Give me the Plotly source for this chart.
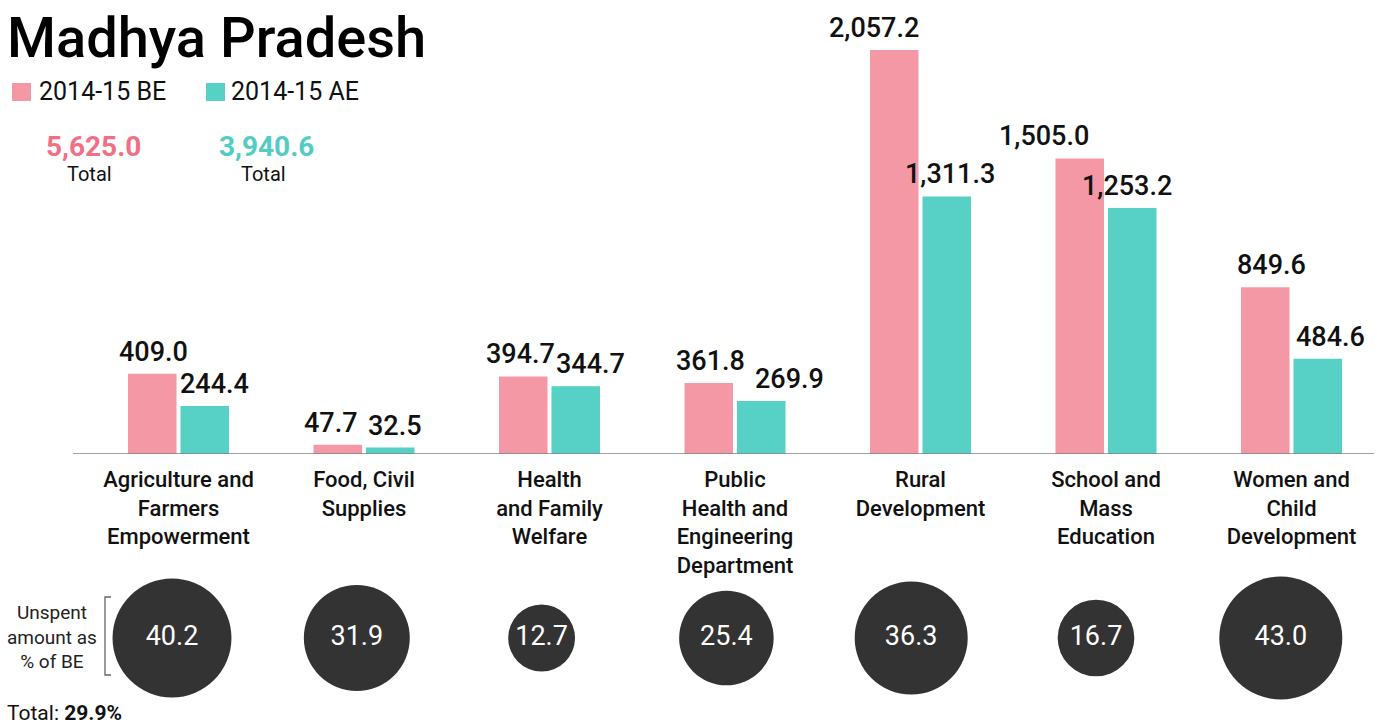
import plotly.graph_objects as go

W, H = 1383, 726

categories = [
    "Agriculture and<br>Farmers<br>Empowerment",
    "Food, Civil<br>Supplies",
    "Health<br>and Family<br>Welfare",
    "Public<br>Health and<br>Engineering<br>Department",
    "Rural<br>Development",
    "School and<br>Mass<br>Education",
    "Women and<br>Child<br>Development",
]
be_2014_15 = [409.0, 47.7, 394.7, 361.8, 2057.2, 1505.0, 849.6]
ae_2014_15 = [244.4, 32.5, 344.7, 269.9, 1311.3, 1253.2, 484.6]
unspent_pct = [40.2, 31.9, 12.7, 25.4, 36.3, 16.7, 43.0]
total_unspent = 29.9

# hand nudges for the value labels (px), so neighbours don't collide
be_nudge = [1, -7, -3, 2, -20, -36, 6]
ae_nudge = [10, 5, 15, 28, 3, -5, 13]

PINK = "#f498a5"
TEAL = "#57d0c6"
PINK_TXT = "#f07085"
TEAL_TXT = "#52cdc3"
DARK = "#333333"
FONT = "Roboto"

# plot geometry (px)
CAT_STEP = 185.5
FIRST_CAT_X = 178.5
CIRCLE_STEP = 184.8
FIRST_CIRCLE_X = 172
BASE_Y = 454
BAR_GAP = 0.434
GROUP_GAP = 0.076
slot = CAT_STEP * (1 - BAR_GAP) / 2
y_top = BASE_Y / (404 / 2057.2)


def px_x(x):
    return x / W


def px_y(y):
    return 1 - y / H


fig = go.Figure()
fig.add_trace(go.Bar(x=categories, y=be_2014_15, name="2014-15 BE",
                     marker=dict(color=PINK, line_width=0)))
fig.add_trace(go.Bar(x=categories, y=ae_2014_15, name="2014-15 AE",
                     marker=dict(color=TEAL, line_width=0)))

max_d = 123
fig.add_trace(go.Scatter(
    x=categories, y=[0] * len(categories), xaxis="x2", yaxis="y2",
    mode="markers+text",
    text=[f"{v:.1f}" for v in unspent_pct], textposition="middle center",
    textfont=dict(family=FONT, size=27, color="white"),
    marker=dict(size=unspent_pct, sizemode="area", color=DARK, opacity=1,
                sizeref=2 * max(unspent_pct) / max_d ** 2, line_width=0),
    hoverinfo="skip"))

annotations = []
for i, cat in enumerate(categories):
    for vals, nudge, side in ((be_2014_15, be_nudge, -1), (ae_2014_15, ae_nudge, 1)):
        annotations.append(dict(
            x=cat, y=vals[i], xref="x", yref="y", text=f"{vals[i]:,.1f}",
            showarrow=False, xanchor="center", yanchor="bottom",
            xshift=side * slot / 2 + nudge[i], yshift=4,
            font=dict(family=FONT, size=27, color="#111111", weight=500)))

total_be = sum(be_2014_15)
total_ae = sum(ae_2014_15)

annotations += [
    dict(x=px_x(5), y=px_y(38), xref="paper", yref="paper", text="Madhya Pradesh",
         showarrow=False, xanchor="left", yanchor="middle",
         font=dict(family=FONT, size=56, color="#000000", weight=500)),
    dict(x=px_x(37), y=px_y(92), xref="paper", yref="paper", text="2014-15 BE",
         showarrow=False, xanchor="left", yanchor="middle",
         font=dict(family=FONT, size=25, color="#111111")),
    dict(x=px_x(229), y=px_y(92), xref="paper", yref="paper", text="2014-15 AE",
         showarrow=False, xanchor="left", yanchor="middle",
         font=dict(family=FONT, size=25, color="#111111")),
    dict(x=px_x(93), y=px_y(146), xref="paper", yref="paper", text=f"{total_be:,.1f}",
         showarrow=False, xanchor="center", yanchor="middle",
         font=dict(family=FONT, size=28, color=PINK_TXT, weight="bold")),
    dict(x=px_x(89), y=px_y(174), xref="paper", yref="paper", text="Total",
         showarrow=False, xanchor="center", yanchor="middle",
         font=dict(family=FONT, size=20, color="#111111")),
    dict(x=px_x(266), y=px_y(146), xref="paper", yref="paper", text=f"{total_ae:,.1f}",
         showarrow=False, xanchor="center", yanchor="middle",
         font=dict(family=FONT, size=28, color=TEAL_TXT, weight="bold")),
    dict(x=px_x(263), y=px_y(174), xref="paper", yref="paper", text="Total",
         showarrow=False, xanchor="center", yanchor="middle",
         font=dict(family=FONT, size=20, color="#111111")),
    dict(x=px_x(52), y=px_y(637), xref="paper", yref="paper",
         text="Unspent<br>amount as<br>% of BE", align="center",
         showarrow=False, xanchor="center", yanchor="middle",
         font=dict(family=FONT, size=19, color="#222222")),
    dict(x=px_x(5), y=px_y(713), xref="paper", yref="paper",
         text=f"Total: <b>{total_unspent:.1f}%</b>",
         showarrow=False, xanchor="left", yanchor="middle",
         font=dict(family=FONT, size=21, color="#111111")),
]

shapes = [
    # baseline
    dict(type="line", xref="paper", yref="y", x0=px_x(73), x1=px_x(1374), y0=0, y1=0,
         line=dict(color="rgba(130,130,130,0.75)", width=2), layer="above"),
    # legend swatches
    dict(type="rect", xref="paper", yref="paper", x0=px_x(12), x1=px_x(31),
         y0=px_y(101), y1=px_y(83), fillcolor=PINK, line_width=0),
    dict(type="rect", xref="paper", yref="paper", x0=px_x(206), x1=px_x(225),
         y0=px_y(101), y1=px_y(83), fillcolor=TEAL, line_width=0),
    # bracket next to the circle caption
    dict(type="path", xref="paper", yref="paper",
         path=(f"M {px_x(111)} {px_y(597)} L {px_x(105)} {px_y(597)} "
               f"L {px_x(105)} {px_y(675)} L {px_x(111)} {px_y(675)}"),
         line=dict(color="#666666", width=1.3)),
]

fig.update_layout(
    width=W, height=H, margin=dict(l=0, r=0, t=0, b=0),
    paper_bgcolor="white", plot_bgcolor="white",
    barmode="group", bargap=BAR_GAP, bargroupgap=GROUP_GAP,
    showlegend=False,
    xaxis=dict(type="category", domain=[0, 1],
               range=[-FIRST_CAT_X / CAT_STEP, (W - FIRST_CAT_X) / CAT_STEP],
               showgrid=False, zeroline=False, showline=False, ticks="",
               ticklabelstandoff=10,
               tickfont=dict(family=FONT, size=22, color="#111111", weight=500)),
    xaxis2=dict(type="category", domain=[0, 1], anchor="y2",
                range=[-FIRST_CIRCLE_X / CIRCLE_STEP, (W - FIRST_CIRCLE_X) / CIRCLE_STEP],
                showgrid=False, zeroline=False, showline=False, ticks="",
                showticklabels=False),
    yaxis=dict(domain=[1 - BASE_Y / H, 1], range=[0, y_top],
               showgrid=False, zeroline=False, showticklabels=False),
    yaxis2=dict(domain=[0, 176 / H], range=[-1, 1], anchor="x2",
                showgrid=False, zeroline=False, showticklabels=False),
    annotations=annotations, shapes=shapes,
)

# drop the page's default body margin so the figure sits at the window corner
fig.write_html("out.html", config={"displayModeBar": False},
               post_script="document.body.style.margin = '0';")
